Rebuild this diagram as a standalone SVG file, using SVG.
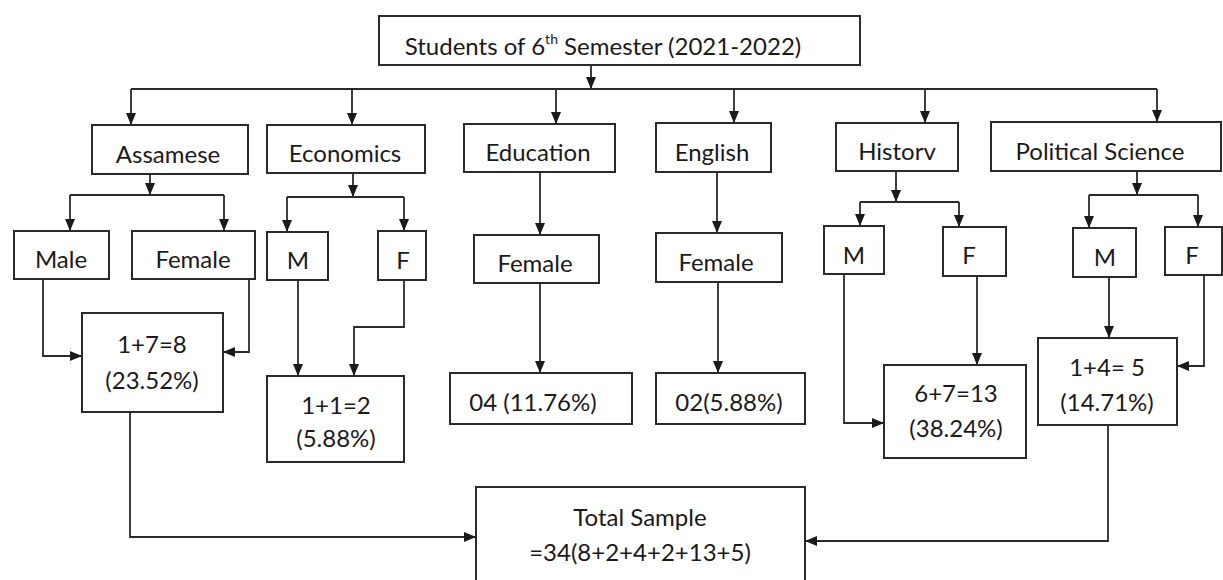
<svg xmlns="http://www.w3.org/2000/svg" width="1223" height="580" viewBox="0 0 1223 580">
<style>
.box{fill:#fff;stroke:#2a2a2a;stroke-width:2}
.ln{fill:none;stroke:#2a2a2a;stroke-width:1.8}
.ar{marker-end:url(#ah)}
text{font-family:Lato,"Liberation Sans",sans-serif;font-size:24px;fill:#1a1a1a;text-anchor:middle}
</style>
<defs>
<marker id="ah" viewBox="0 0 12 10" refX="12" refY="5" markerWidth="12" markerHeight="10" markerUnits="userSpaceOnUse" orient="auto">
<path d="M0,0 L12,5 L0,10 z" fill="#1a1a1a"/>
</marker>
</defs>
<rect width="1223" height="580" fill="#fff"/>
<g id="connectors">
<path class="ln ar" d="M591,65 V89"/>
<path class="ln" d="M131,89 H1157"/>
<path class="ln ar" d="M131,89 V125"/>
<path class="ln ar" d="M352,89 V125"/>
<path class="ln ar" d="M556,89 V124"/>
<path class="ln ar" d="M734,89 V123"/>
<path class="ln ar" d="M925,89 V123"/>
<path class="ln ar" d="M1157,89 V122"/>
<path class="ln ar" d="M150,174 V195"/>
<path class="ln" d="M70,195 H224"/>
<path class="ln ar" d="M70,195 V231"/>
<path class="ln ar" d="M224,195 V231"/>
<path class="ln ar" d="M43,279 V356 H82"/>
<path class="ln ar" d="M249,279 V352 H223"/>
<path class="ln ar" d="M130,412 V537 H476"/>
<path class="ln ar" d="M353,173 V197"/>
<path class="ln" d="M287,197 H404"/>
<path class="ln ar" d="M287,197 V232"/>
<path class="ln ar" d="M404,197 V231"/>
<path class="ln ar" d="M298,280 V376"/>
<path class="ln ar" d="M404,280 V327 H354 V376"/>
<path class="ln ar" d="M540,172 V235"/>
<path class="ln ar" d="M540,283 V373"/>
<path class="ln ar" d="M717,172 V233"/>
<path class="ln ar" d="M718,282 V373"/>
<path class="ln ar" d="M896,171 V202"/>
<path class="ln" d="M860,202 H959"/>
<path class="ln ar" d="M860,202 V226"/>
<path class="ln ar" d="M959,202 V227"/>
<path class="ln ar" d="M844,274 V423 H884"/>
<path class="ln ar" d="M977,276 V365"/>
<path class="ln ar" d="M1137,171 V195"/>
<path class="ln" d="M1089,195 H1198"/>
<path class="ln ar" d="M1089,195 V228"/>
<path class="ln ar" d="M1198,195 V227"/>
<path class="ln ar" d="M1109,277 V338"/>
<path class="ln ar" d="M1204,275 V366 H1177"/>
<path class="ln ar" d="M1108,425 V541 H805"/>
</g>
<g id="top"><rect class="box" x="379" y="16" width="481" height="49"/>
<text x="603" y="55">Students of 6<tspan font-size="14" dy="-11">th</tspan><tspan dy="11"> Semester (2021-2022)</tspan></text></g>
<g id="assamese"><rect class="box" x="92" y="125" width="156" height="49"/><text x="168" y="163">Assamese</text></g>
<g id="economics"><rect class="box" x="267" y="125" width="158" height="48"/><text x="345" y="162">Economics</text></g>
<g id="education"><rect class="box" x="464" y="124" width="151" height="48"/><text x="538" y="161">Education</text></g>
<g id="english"><rect class="box" x="656" y="123" width="115" height="49"/><text x="712" y="161">English</text></g>
<g id="history"><rect class="box" x="836" y="123" width="122" height="48"/><text x="897" y="160">Historv</text></g>
<g id="polsci"><rect class="box" x="991" y="122" width="230" height="49"/><text x="1100" y="160">Political Science</text></g>
<g id="ass-male"><rect class="box" x="14" y="231" width="95" height="48"/><text x="61" y="268">Male</text></g>
<g id="ass-female"><rect class="box" x="132" y="231" width="123" height="48"/><text x="193" y="268">Female</text></g>
<g id="ass-total"><rect class="box" x="82" y="313" width="141" height="99"/><text x="152" y="353">1+7=8</text><text x="152" y="389">(23.52%)</text></g>
<g id="eco-m"><rect class="box" x="267" y="232" width="61" height="48"/><text x="298" y="269">M</text></g>
<g id="eco-f"><rect class="box" x="378" y="231" width="48" height="49"/><text x="403" y="269">F</text></g>
<g id="eco-total"><rect class="box" x="267" y="376" width="137" height="86"/><text x="336" y="414">1+1=2</text><text x="336" y="447">(5.88%)</text></g>
<g id="edu-female"><rect class="box" x="474" y="235" width="125" height="48"/><text x="535" y="272">Female</text></g>
<g id="edu-total"><rect class="box" x="450" y="373" width="182" height="51"/><text x="533" y="411">04 (11.76%)</text></g>
<g id="eng-female"><rect class="box" x="656" y="233" width="126" height="49"/><text x="716" y="271">Female</text></g>
<g id="eng-total"><rect class="box" x="656" y="373" width="149" height="51"/><text x="729" y="411">02(5.88%)</text></g>
<g id="his-m"><rect class="box" x="824" y="226" width="60" height="48"/><text x="854" y="264">M</text></g>
<g id="his-f"><rect class="box" x="943" y="227" width="63" height="49"/><text x="969" y="264">F</text></g>
<g id="his-total"><rect class="box" x="884" y="365" width="142" height="93"/><text x="956" y="402">6+7=13</text><text x="956" y="437">(38.24%)</text></g>
<g id="pol-m"><rect class="box" x="1073" y="228" width="63" height="49"/><text x="1105" y="266">M</text></g>
<g id="pol-f"><rect class="box" x="1165" y="227" width="57" height="48"/><text x="1192" y="264">F</text></g>
<g id="pol-total"><rect class="box" x="1038" y="338" width="139" height="87"/><text x="1107" y="376">1+4= 5</text><text x="1107" y="411">(14.71%)</text></g>
<g id="total"><rect class="box" x="476" y="487" width="329" height="110"/><text x="640" y="526">Total Sample</text><text x="640" y="561">=34(8+2+4+2+13+5)</text></g>
</svg>
